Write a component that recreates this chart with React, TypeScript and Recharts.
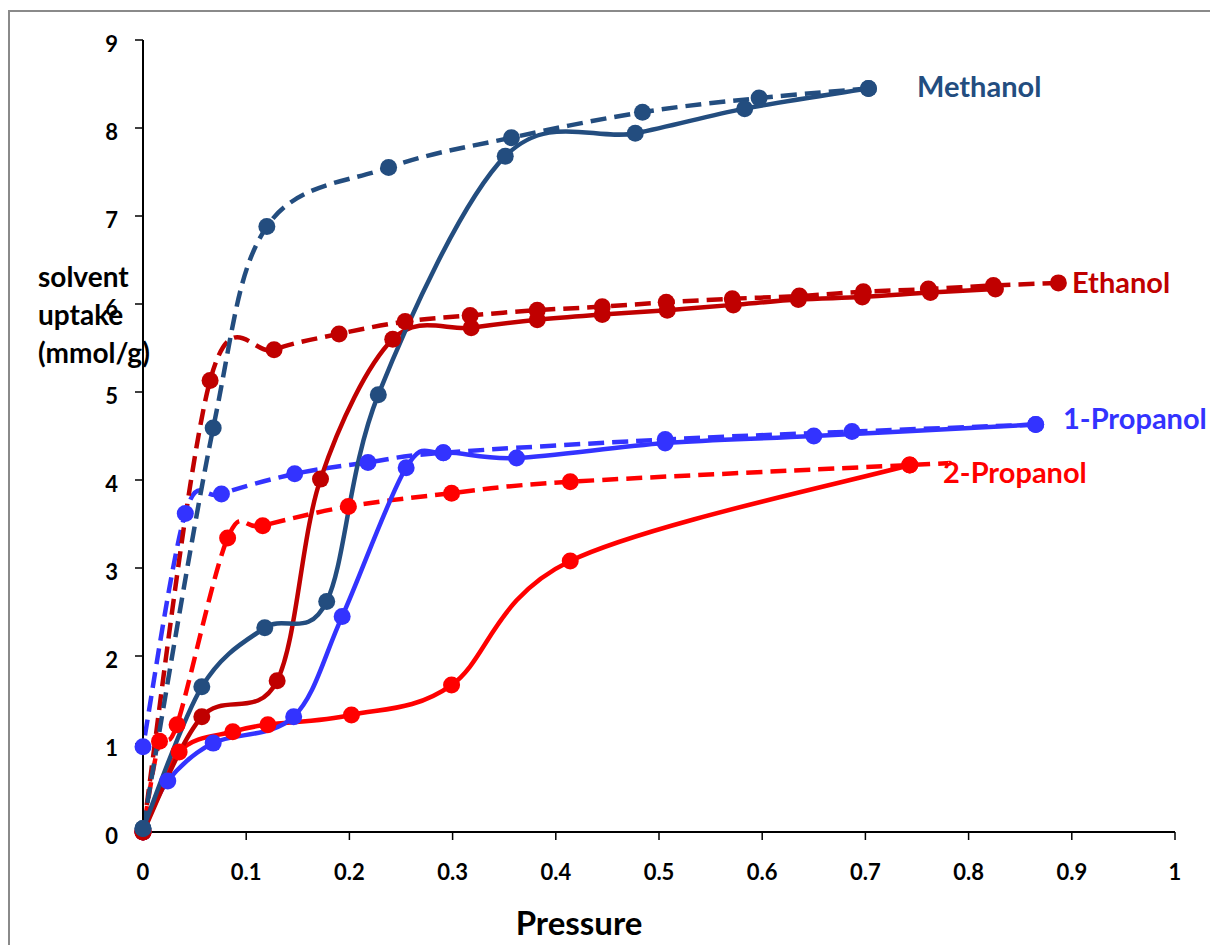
import { Line, LineChart, XAxis, YAxis } from "recharts";

const FONT = "Lato, 'Open Sans', sans-serif";

const METHANOL = "#234d7f";
const ETHANOL = "#c00000";
const PROPANOL1 = "#3333ff";
const PROPANOL2 = "#ff0000";

const pressureTicks = [0, 0.1, 0.2, 0.3, 0.4, 0.5, 0.6, 0.7, 0.8, 0.9, 1];
const uptakeTicks = [0, 1, 2, 3, 4, 5, 6, 7, 8, 9];

// Methanol: adsorption (solid) and desorption (dashed)
const methanolAdsP = [0, 0.057, 0.118, 0.178, 0.228, 0.351, 0.477, 0.583, 0.703];
const methanolAdsU = [0.04, 1.65, 2.32, 2.62, 4.97, 7.68, 7.94, 8.22, 8.45];
const methanolDesP = [0.703, 0.597, 0.484, 0.357, 0.238, 0.12, 0.068, 0];
const methanolDesU = [8.45, 8.34, 8.18, 7.89, 7.55, 6.88, 4.59, 0.04];

// Ethanol
const ethanolAdsP = [0, 0.057, 0.13, 0.172, 0.242, 0.318, 0.382, 0.445, 0.508, 0.572, 0.635, 0.697, 0.763, 0.826];
const ethanolAdsU = [0, 1.31, 1.72, 4.01, 5.6, 5.73, 5.82, 5.88, 5.93, 5.99, 6.05, 6.08, 6.13, 6.17];
const ethanolDesP = [0.887, 0.824, 0.761, 0.698, 0.636, 0.571, 0.507, 0.445, 0.382, 0.317, 0.254, 0.19, 0.127, 0.065, 0];
const ethanolDesU = [6.24, 6.21, 6.17, 6.14, 6.09, 6.06, 6.02, 5.97, 5.93, 5.87, 5.8, 5.66, 5.48, 5.13, 0];

// 1-Propanol
const propanol1AdsP = [0, 0.024, 0.068, 0.146, 0.193, 0.255, 0.291, 0.362, 0.506, 0.65, 0.865];
const propanol1AdsU = [0, 0.58, 1.01, 1.31, 2.45, 4.14, 4.31, 4.25, 4.42, 4.5, 4.63];
const propanol1DesP = [0.865, 0.687, 0.506, 0.291, 0.218, 0.147, 0.076, 0.041, 0];
const propanol1DesU = [4.63, 4.55, 4.46, 4.31, 4.2, 4.07, 3.84, 3.62, 0.97];

// 2-Propanol
const propanol2AdsP = [0, 0.035, 0.087, 0.121, 0.202, 0.299, 0.414, 0.743];
const propanol2AdsU = [0, 0.91, 1.14, 1.22, 1.33, 1.67, 3.08, 4.17];
const propanol2DesP = [0.78, 0.743, 0.414, 0.299, 0.199, 0.116, 0.082, 0.033, 0.016, 0];
const propanol2DesU = [4.19, 4.17, 3.98, 3.85, 3.7, 3.48, 3.34, 1.22, 1.03, 0];

const toPoints = (p: number[], u: number[]) => p.map((x, i) => ({ x, y: u[i] }));

// Excel-style smoothed line (Catmull-Rom through the points)
function excelSmooth(context: any) {
  let pts: number[][] = [];
  return {
    areaStart() {},
    areaEnd() {},
    lineStart() {
      pts = [];
    },
    point(x: number, y: number) {
      pts.push([+x, +y]);
    },
    lineEnd() {
      const n = pts.length;
      if (!n) return;
      context.moveTo(pts[0][0], pts[0][1]);
      for (let i = 0; i < n - 1; i++) {
        const p0 = pts[Math.max(i - 1, 0)];
        const p1 = pts[i];
        const p2 = pts[i + 1];
        const p3 = pts[Math.min(i + 2, n - 1)];
        context.bezierCurveTo(
          p1[0] + (p2[0] - p0[0]) / 6,
          p1[1] + (p2[1] - p0[1]) / 6,
          p2[0] - (p3[0] - p1[0]) / 6,
          p2[1] - (p3[1] - p1[1]) / 6,
          p2[0],
          p2[1]
        );
      }
    },
  };
}

const series = [
  { id: "p2-des", data: toPoints(propanol2DesP, propanol2DesU), color: PROPANOL2, dashed: true, skipFirst: true },
  { id: "p2-ads", data: toPoints(propanol2AdsP, propanol2AdsU), color: PROPANOL2, dashed: false, skipFirst: false },
  { id: "p1-des", data: toPoints(propanol1DesP, propanol1DesU), color: PROPANOL1, dashed: true, skipFirst: false },
  { id: "p1-ads", data: toPoints(propanol1AdsP, propanol1AdsU), color: PROPANOL1, dashed: false, skipFirst: false },
  { id: "et-des", data: toPoints(ethanolDesP, ethanolDesU), color: ETHANOL, dashed: true, skipFirst: false },
  { id: "et-ads", data: toPoints(ethanolAdsP, ethanolAdsU), color: ETHANOL, dashed: false, skipFirst: false },
  { id: "me-des", data: toPoints(methanolDesP, methanolDesU), color: METHANOL, dashed: true, skipFirst: false },
  { id: "me-ads", data: toPoints(methanolAdsP, methanolAdsU), color: METHANOL, dashed: false, skipFirst: false },
];

const makeDot = (color: string, skipFirst: boolean) => (props: any) => {
  const { cx, cy, index } = props;
  if (skipFirst && index === 0) return <g key={`dot-${index}`} />;
  return <circle key={`dot-${index}`} cx={cx} cy={cy} r={8.5} fill={color} stroke="none" />;
};

const XTick = (props: any) => {
  const { x, y, payload } = props;
  return (
    <text x={x} y={y + 15} textAnchor="middle" fontFamily={FONT} fontWeight={700} fontSize={22} fill="#000">
      {payload.value}
    </text>
  );
};

const YTick = (props: any) => {
  const { x, y, payload } = props;
  return (
    <text x={x} y={y + 12} textAnchor="end" fontFamily={FONT} fontWeight={700} fontSize={22} fill="#000">
      {payload.value}
    </text>
  );
};

export default function App() {
  return (
    <div style={{ position: "absolute", left: 0, top: 0, width: 1210, height: 945, overflow: "hidden", background: "#fff" }}>
      <div
        style={{
          position: "absolute",
          left: 8,
          top: 10,
          width: 1260,
          height: 1000,
          border: "2px solid #8a8a8a",
        }}
      />
      <LineChart width={1210} height={945} margin={{ top: 40, right: 35, bottom: 53, left: 83 }}>
        <XAxis
          type="number"
          dataKey="x"
          domain={[0, 1]}
          ticks={pressureTicks}
          height={60}
          tickSize={8}
          tickMargin={25}
          axisLine={{ stroke: "#000", strokeWidth: 2 }}
          tickLine={{ stroke: "#000", strokeWidth: 1.5 }}
          tick={<XTick />}
        />
        <YAxis
          type="number"
          dataKey="y"
          domain={[0, 9]}
          ticks={uptakeTicks}
          width={60}
          tickSize={8}
          tickMargin={17}
          axisLine={{ stroke: "#000", strokeWidth: 2 }}
          tickLine={{ stroke: "#000", strokeWidth: 1.5 }}
          tick={<YTick />}
        />
        {series.map((s) => (
          <Line
            key={s.id}
            data={s.data}
            dataKey="y"
            type={excelSmooth as any}
            stroke={s.color}
            strokeWidth={4.5}
            strokeDasharray={s.dashed ? "16 8" : undefined}
            dot={makeDot(s.color, s.skipFirst)}
            activeDot={false}
            isAnimationActive={false}
          />
        ))}
      </LineChart>
      <svg
        width={1210}
        height={945}
        style={{ position: "absolute", left: 0, top: 0, pointerEvents: "none" }}
        fontFamily={FONT}
        fontWeight={700}
      >
        <text x={917} y={97} fontSize={29} fill={METHANOL}>Methanol</text>
        <text x={1072} y={293} fontSize={29} fill={ETHANOL}>Ethanol</text>
        <text x={1063} y={429} fontSize={29} fill={PROPANOL1}>1-Propanol</text>
        <text x={943} y={483} fontSize={29} fill={PROPANOL2}>2-Propanol</text>
        <text x={38} y={287} fontSize={28} fill="#000">solvent</text>
        <text x={38} y={325} fontSize={28} fill="#000">uptake</text>
        <text x={38} y={363} fontSize={28} fill="#000">(mmol/g)</text>
        <text x={579} y={935} fontSize={33} fill="#000" textAnchor="middle">Pressure</text>
      </svg>
    </div>
  );
}
